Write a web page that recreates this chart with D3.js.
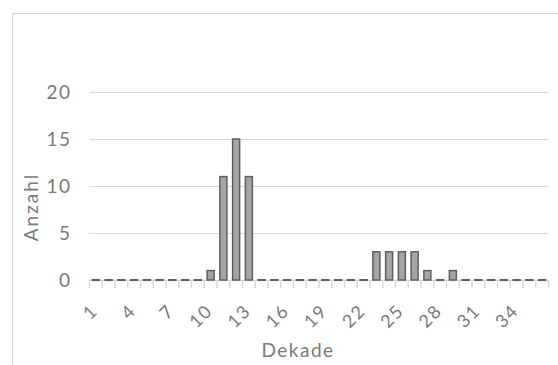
<!DOCTYPE html>
<html>
<head>
<meta charset="utf-8">
<script src="https://cdn.jsdelivr.net/npm/d3@7/dist/d3.min.js"></script>
<style>
  body { margin: 0; background: #fff; }
  text { font-family: Lato, 'Open Sans', sans-serif; fill: #7a7a7a; letter-spacing: 1.5px; }
</style>
</head>
<body>
<div id="chart"></div>
<script>
// Dekade 1..36, Anzahl per Dekade
const dekaden = d3.range(1, 37);
const anzahl = [
  0, 0, 0, 0, 0, 0, 0, 0, 0, 1, 11, 15,
  11, 0, 0, 0, 0, 0, 0, 0, 0, 0, 3, 3,
  3, 3, 1, 0, 1, 0, 0, 0, 0, 0, 0, 0
];
const yTicks = [0, 5, 10, 15, 20];
const tickLabels = dekaden.filter((d, i) => i % 3 === 0);

const width = 558;
const height = 365;
const margin = { top: 92, right: 10, bottom: 85, left: 89.5 };

const svg = d3
  .select('#chart')
  .append('svg')
  .attr('width', width)
  .attr('height', height);

// chart frame (cut off at right and bottom)
svg
  .append('rect')
  .attr('x', 12.5)
  .attr('y', 13.5)
  .attr('width', 600)
  .attr('height', 400)
  .attr('fill', 'none')
  .attr('stroke', '#d9d9d9');

const x = d3
  .scaleBand()
  .domain(dekaden)
  .range([margin.left, 548.5])
  .paddingInner(0.45)
  .paddingOuter(0.225);

const y = d3
  .scaleLinear()
  .domain([0, 20])
  .range([280, margin.top]);

// gridlines
svg
  .append('g')
  .selectAll('line')
  .data(yTicks.filter(d => d > 0))
  .join('line')
  .attr('x1', margin.left)
  .attr('x2', 548.5)
  .attr('y1', d => Math.round(y(d)) + 0.5)
  .attr('y2', d => Math.round(y(d)) + 0.5)
  .attr('stroke', '#d9d9d9')
  .attr('stroke-width', 1.2);

// y labels
svg
  .append('g')
  .selectAll('text')
  .data(yTicks)
  .join('text')
  .attr('x', 71.5)
  .attr('y', d => y(d))
  .attr('dy', '0.35em')
  .attr('text-anchor', 'end')
  .attr('font-size', 19)
  .text(d => d);

// x axis line + ticks at category boundaries
const step = x.step();
const ax = svg.append('g').attr('stroke', '#d9d9d9').attr('stroke-width', 1.5);
ax.append('line')
  .attr('x1', margin.left)
  .attr('x2', 548.5)
  .attr('y1', 280.5)
  .attr('y2', 280.5);
ax.selectAll('.tick')
  .data(d3.range(0, dekaden.length + 1))
  .join('line')
  .attr('class', 'tick')
  .attr('x1', i => margin.left + i * step)
  .attr('x2', i => margin.left + i * step)
  .attr('y1', 280)
  .attr('y2', 288);

// bars
const bars = svg.append('g');
bars
  .selectAll('rect')
  .data(dekaden.filter((d, i) => anzahl[i] > 0))
  .join('rect')
  .attr('x', d => x(d))
  .attr('y', d => y(anzahl[d - 1]))
  .attr('width', x.bandwidth())
  .attr('height', d => y(0) - y(anzahl[d - 1]))
  .attr('fill', '#a5a5a5')
  .attr('stroke', '#5f5f5f')
  .attr('stroke-width', 1.5);

// zero values show as a dash
bars
  .selectAll('line')
  .data(dekaden.filter((d, i) => anzahl[i] === 0))
  .join('line')
  .attr('x1', d => x(d) - 0.75)
  .attr('x2', d => x(d) + x.bandwidth() + 0.75)
  .attr('y1', y(0))
  .attr('y2', y(0))
  .attr('stroke', '#5f5f5f')
  .attr('stroke-width', 2);

// x tick labels, rotated
svg
  .append('g')
  .selectAll('text')
  .data(tickLabels)
  .join('text')
  .attr(
    'transform',
    d => `translate(${x(d) + x.bandwidth() / 2 + 3},${312}) rotate(-45)`
  )
  .attr('text-anchor', 'end')
  .attr('font-size', 18)
  .text(d => d);

// axis titles
svg
  .append('text')
  .attr('x', 298)
  .attr('y', 357)
  .attr('text-anchor', 'middle')
  .attr('font-size', 19)
  .text('Dekade');

svg
  .append('text')
  .attr('transform', 'translate(38,207) rotate(-90)')
  .attr('text-anchor', 'middle')
  .attr('font-size', 19)
  .style('letter-spacing', '2px')
  .text('Anzahl');
</script>
</body>
</html>
